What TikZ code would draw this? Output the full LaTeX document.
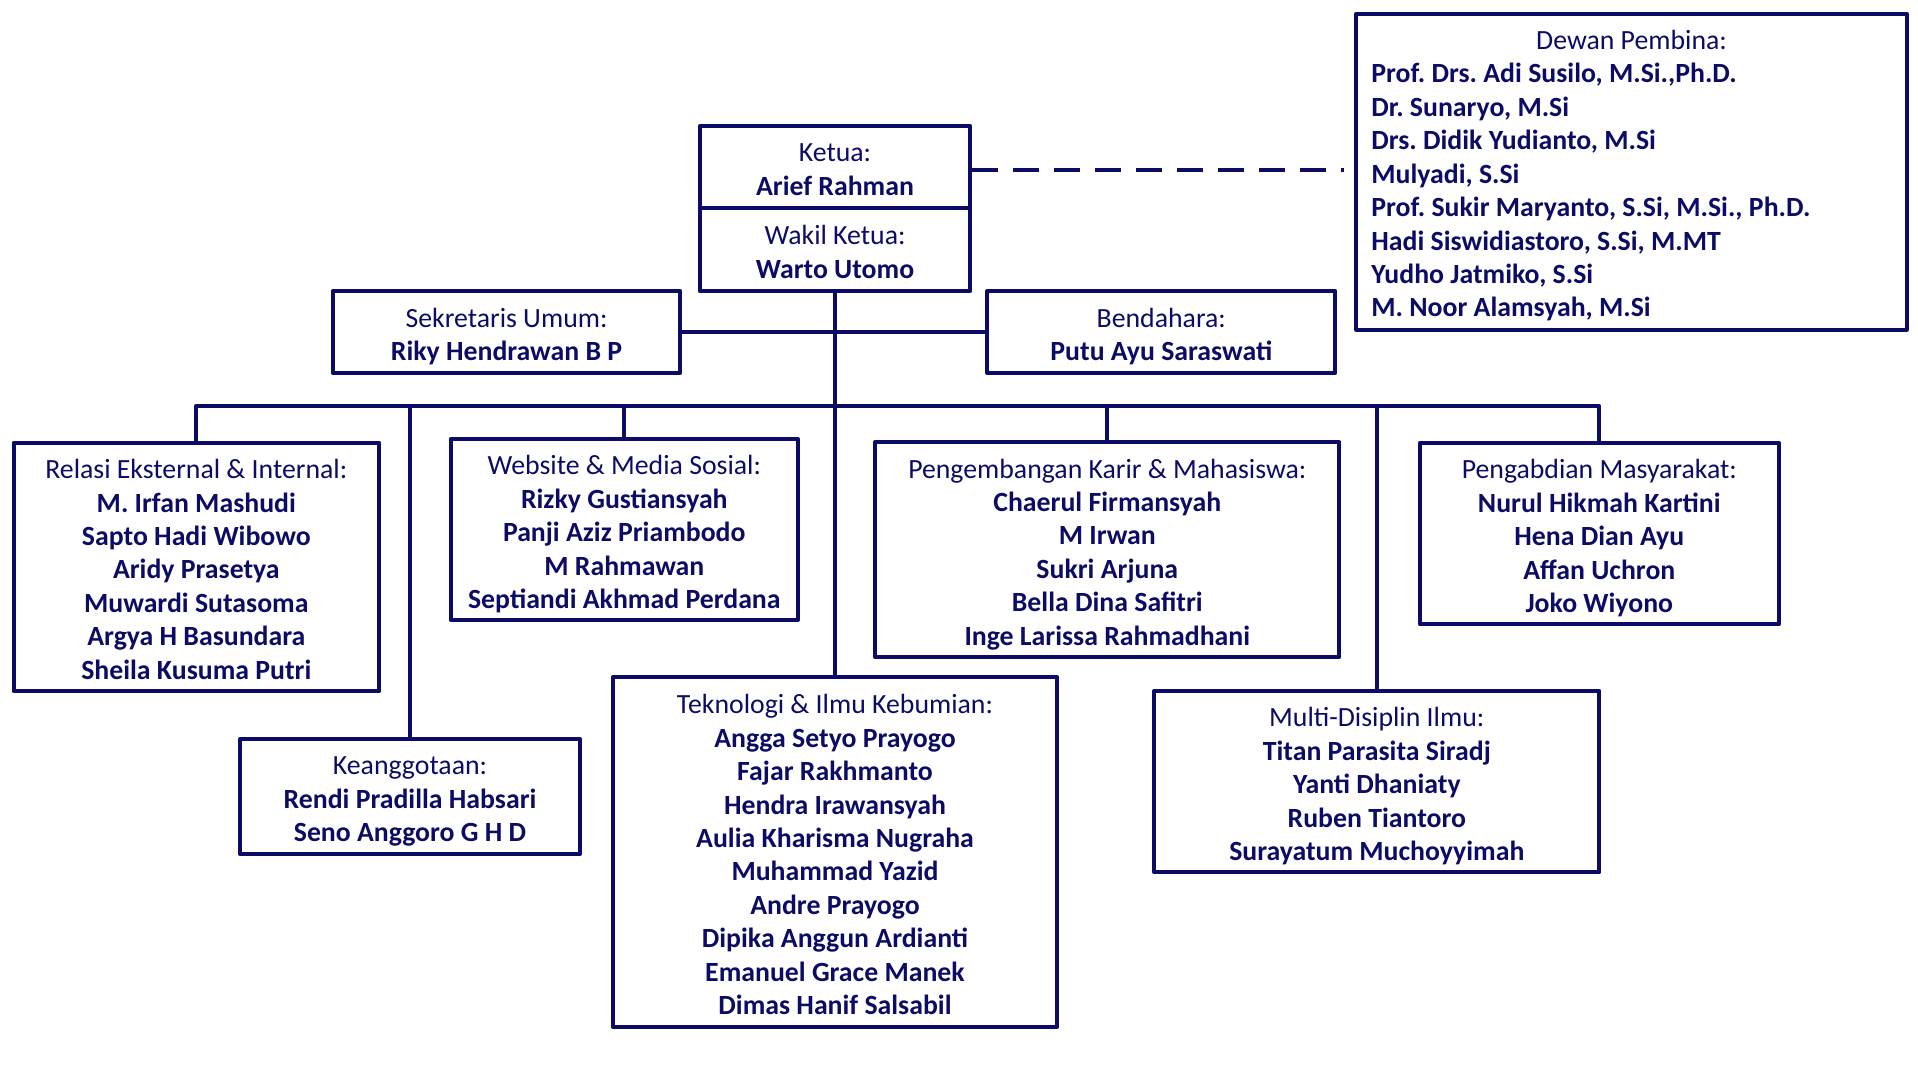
\documentclass[tikz,border=0pt]{standalone}
\usepackage{fontspec}
\setmainfont{Carlito}
\frenchspacing
\definecolor{biru}{RGB}{12,12,102}

\begin{document}
\begin{tikzpicture}[line cap=round,line join=round,x=0.01cm,y=-0.01cm,
	kotak/.style={draw=biru,text=biru,line width=1.15pt,inner sep=0pt,font=\fontsize{7.9}{9.5}\selectfont},
	jabatan/.style={kotak,align=center,text depth=0pt,execute at begin node={\setbox0=\hbox\bgroup},execute at end node={\egroup\rule{0pt}{\dimexpr\ht0+1.4pt\relax}\box0}},
	pembina/.style={kotak,align=flush left,execute at begin node={\rule{0pt}{8.7pt}},execute at end node={\rule[-2.2pt]{0pt}{0pt}}},
	garis/.style={draw=biru,line width=1.15pt},
	putus/.style={draw=biru,line width=1.4pt,line cap=butt,dash pattern=on 0.26cm off 0.15cm}]
	\useasboundingbox (0,0) rectangle (1918,1078);
	\node[jabatan,minimum width=2.70cm,minimum height=0.82cm] (ketua) at (835,167) {Ketua:\\\textbf{Arief Rahman}};
	\node[jabatan,minimum width=2.70cm,minimum height=0.83cm] (wakil) at (835,249.5) {Wakil Ketua:\\\textbf{Warto Utomo}};
	\node[jabatan,minimum width=3.47cm,minimum height=0.82cm] (sekretaris) at (506.5,332) {Sekretaris Umum:\\\textbf{Riky Hendrawan B P}};
	\node[jabatan,minimum width=3.475cm,minimum height=0.82cm] (bendahara) at (1161.3,332) {Bendahara:\\\textbf{Putu Ayu Saraswati}};
	\node[pembina,minimum width=5.50cm,minimum height=3.155cm,text width=5.20cm] (dewan) at (1631.5,171.75) {\makebox[\linewidth]{Dewan Pembina:}\\\textbf{Prof. Drs. Adi Susilo, M.Si.,Ph.D.}\\\textbf{Dr. Sunaryo, M.Si}\\\textbf{Drs. Didik Yudianto, M.Si}\\\textbf{Mulyadi, S.Si}\\\textbf{Prof. Sukir Maryanto, S.Si, M.Si., Ph.D.}\\\textbf{Hadi Siswidiastoro, S.Si, M.MT}\\\textbf{Yudho Jatmiko, S.Si}\\\textbf{M. Noor Alamsyah, M.Si}};
	\node[jabatan,minimum width=3.653cm,minimum height=2.483cm] (relasi) at (196.3,566.8) {Relasi Eksternal \& Internal:\\\textbf{M. Irfan Mashudi}\\\textbf{Sapto Hadi Wibowo}\\\textbf{Aridy Prasetya}\\\textbf{Muwardi Sutasoma}\\\textbf{Argya H Basundara}\\\textbf{Sheila Kusuma Putri}};
	\node[jabatan,minimum width=3.467cm,minimum height=1.81cm] (website) at (624.3,529.5) {Website \& Media Sosial:\\\textbf{Rizky Gustiansyah}\\\textbf{Panji Aziz Priambodo}\\\textbf{M Rahmawan}\\\textbf{Septiandi Akhmad Perdana}};
	\node[jabatan,minimum width=4.64cm,minimum height=2.144cm] (karir) at (1107.3,549.5) {Pengembangan Karir \& Mahasiswa:\\\textbf{Chaerul Firmansyah}\\\textbf{M Irwan}\\\textbf{Sukri Arjuna}\\\textbf{Bella Dina Safitri}\\\textbf{Inge Larissa Rahmadhani}};
	\node[jabatan,minimum width=3.585cm,minimum height=1.816cm] (pengabdian) at (1599.3,533.5) {Pengabdian Masyarakat:\\\textbf{Nurul Hikmah Kartini}\\\textbf{Hena Dian Ayu}\\\textbf{Affan Uchron}\\\textbf{Joko Wiyono}};
	\node[jabatan,minimum width=3.40cm,minimum height=1.147cm] (keanggotaan) at (410,796.7) {Keanggotaan:\\\textbf{Rendi Pradilla Habsari}\\\textbf{Seno Anggoro G H D}};
	\node[jabatan,minimum width=4.437cm,minimum height=3.494cm] (teknologi) at (835,852) {Teknologi \& Ilmu Kebumian:\\\textbf{Angga Setyo Prayogo}\\\textbf{Fajar Rakhmanto}\\\textbf{Hendra Irawansyah}\\\textbf{Aulia Kharisma Nugraha}\\\textbf{Muhammad Yazid}\\\textbf{Andre Prayogo}\\\textbf{Dipika Anggun Ardianti}\\\textbf{Emanuel Grace Manek}\\\textbf{Dimas Hanif Salsabil}};
	\node[jabatan,minimum width=4.45cm,minimum height=1.813cm] (multi) at (1376.8,781.6) {Multi-Disiplin Ilmu:\\\textbf{Titan Parasita Siradj}\\\textbf{Yanti Dhaniaty}\\\textbf{Ruben Tiantoro}\\\textbf{Surayatum Muchoyyimah}};
	\coordinate (ujung) at (1344,170);
	\coordinate (bus) at (835,406);
	\draw[putus] (ketua.east |- ujung) -- (ujung);
	\draw[garis] (wakil.south) -- (teknologi.north);
	\draw[garis] (sekretaris.east) -- (bendahara.west);
	\draw[garis] (relasi.north) -- (relasi.north |- bus) -- (pengabdian.north |- bus) -- (pengabdian.north);
	\foreach \b in {keanggotaan,website,karir,multi}
	\draw[garis] (\b.north) -- (\b.north |- bus);
\end{tikzpicture}
\end{document}
